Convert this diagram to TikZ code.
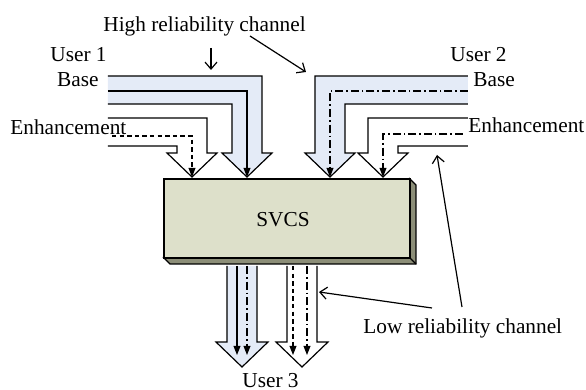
\documentclass[tikz,border=0pt]{standalone}
\usepackage{fontspec}
\setmainfont{Liberation Serif}
\usetikzlibrary{arrows.meta}
\definecolor{chanblue}{RGB}{228,235,247}
\definecolor{boxfront}{RGB}{221,224,202}
\definecolor{boxside}{RGB}{140,142,120}
\tikzset{
  lbl/.style={inner sep=0pt, font=\fontsize{10.65}{12}\selectfont},
  blockout/.style={draw=black, line width=0.6pt, line join=miter},
  sigline/.style={line width=0.6pt, -{Triangle[length=4.5pt,width=3.4pt]}},
  dashsig/.style={sigline, dash pattern=on 2.2pt off 1.6pt},
  dotsig/.style={sigline, dash pattern=on 4pt off 1.5pt on 0.8pt off 1.5pt},
  ptr/.style={line width=0.6pt, -{Straight Barb[length=3.5pt,width=6pt]}},
}
\begin{document}
\begin{tikzpicture}[x=0.5pt,y=-0.5pt]
\useasboundingbox (0,0) rectangle (586,390);
% ---- user 1 base (blue) ----
\fill[chanblue] (108,76) -- (262,76) -- (262,153) -- (272,153) -- (247,177) -- (222,153) -- (232,153) -- (232,104) -- (108,104) -- cycle;
\draw[blockout] (108,76) -- (262,76) -- (262,153) -- (272,153) -- (247,177) -- (222,153) -- (232,153) -- (232,104) -- (108,104);
% ---- user 1 enhancement (white) ----
\fill[white] (108,118) -- (207,118) -- (207,153) -- (217,153) -- (192,177) -- (167,153) -- (177,153) -- (177,146) -- (108,146) -- cycle;
\draw[blockout] (108,118) -- (207,118) -- (207,153) -- (217,153) -- (192,177) -- (167,153) -- (177,153) -- (177,146) -- (108,146);
% ---- user 2 base (blue) ----
\fill[chanblue] (468,76) -- (315,76) -- (315,153) -- (305,153) -- (330,177) -- (355,153) -- (345,153) -- (345,104) -- (468,104) -- cycle;
\draw[blockout] (468,76) -- (315,76) -- (315,153) -- (305,153) -- (330,177) -- (355,153) -- (345,153) -- (345,104) -- (468,104);
% ---- user 2 enhancement (white) ----
\fill[white] (468,118) -- (368,118) -- (368,153) -- (358,153) -- (383,177) -- (408,153) -- (398,153) -- (398,146) -- (468,146) -- cycle;
\draw[blockout] (468,118) -- (368,118) -- (368,153) -- (358,153) -- (383,177) -- (408,153) -- (398,153) -- (398,146) -- (468,146);
% ---- signal lines into SVCS ----
\coordinate (u1b) at (108,91);
\coordinate (u1e) at (112,136);
\coordinate (u2b) at (468,91);
\coordinate (u2e) at (463,134);
\draw[sigline] (u1b) -- (247,91) -- (247,177);
\draw[dashsig] (u1e) -- (192,136) -- (192,177);
\draw[dotsig] (u2b) -- (330,91) -- (330,177);
\draw[dotsig] (u2e) -- (383,134) -- (383,177);
% ---- SVCS box ----
\fill[boxside] (409,178) -- (416,185) -- (416,264) -- (170,264) -- (163,257) -- (409,257) -- cycle;
\draw[line width=0.6pt] (409,178) -- (416,185) -- (416,264) -- (170,264) -- (163,257);
\draw[line width=0.6pt] (409,257) -- (416,264);
\node[draw=black, line width=1.1pt, fill=boxfront, minimum width=123pt, minimum height=39.5pt, inner sep=0pt, anchor=north west] (svcs) at (163,178) {};
\node[lbl, anchor=base] (svcstext) at (283,227) {SVCS};
% ---- output arrows (user 3) ----
\fill[chanblue] (227,266) -- (227,342) -- (216,342) -- (242,367) -- (268,342) -- (257,342) -- (257,266) -- cycle;
\draw[blockout] (227,266) -- (227,342) -- (216,342) -- (242,367) -- (268,342) -- (257,342) -- (257,266);
\draw[blockout] (287,266) -- (287,342) -- (276,342) -- (302,367) -- (328,342) -- (317,342) -- (317,266);
\coordinate (o1) at (237,266);
\coordinate (o2) at (247,266);
\coordinate (o3) at (293,266);
\coordinate (o4) at (307,266);
\draw[sigline] (o1) -- (237,355);
\draw[dotsig] (o2) -- (247,355);
\draw[dashsig] (o3) -- (293,355);
\draw[dotsig] (o4) -- (307,355);
% ---- labels ----
\node[lbl, anchor=base west] (high) at (103,32) {High reliability channel};
\node[lbl, anchor=base west] (user1) at (50,62) {User 1};
\node[lbl, anchor=base west] (user2) at (450,62) {User 2};
\node[lbl, anchor=base east] (base1) at (99,87) {Base};
\node[lbl, anchor=base west] (base2) at (473,87) {Base};
\node[lbl, anchor=base west] (enh1) at (10,135) {Enhancement};
\node[lbl, anchor=base west] (enh2) at (468,133) {Enhancement};
\node[lbl, anchor=base west] (low) at (363,334) {Low reliability channel};
\node[lbl, anchor=base west] (user3) at (242,388) {User 3};
% ---- pointer arrows ----
\coordinate (h1s) at (211,48);
\coordinate (h1e) at (211,70);
\coordinate (h2s) at (250,36);
\coordinate (h2e) at (306,72);
\coordinate (l1s) at (432,308);
\coordinate (l1e) at (319,292);
\coordinate (l2s) at (462,307);
\coordinate (l2e) at (437,155);
\draw[ptr] (h1s) -- (h1e);
\draw[ptr] (h2s) -- (h2e);
\draw[ptr] (l1s) -- (l1e);
\draw[ptr] (l2s) -- (l2e);
\end{tikzpicture}
\end{document}
